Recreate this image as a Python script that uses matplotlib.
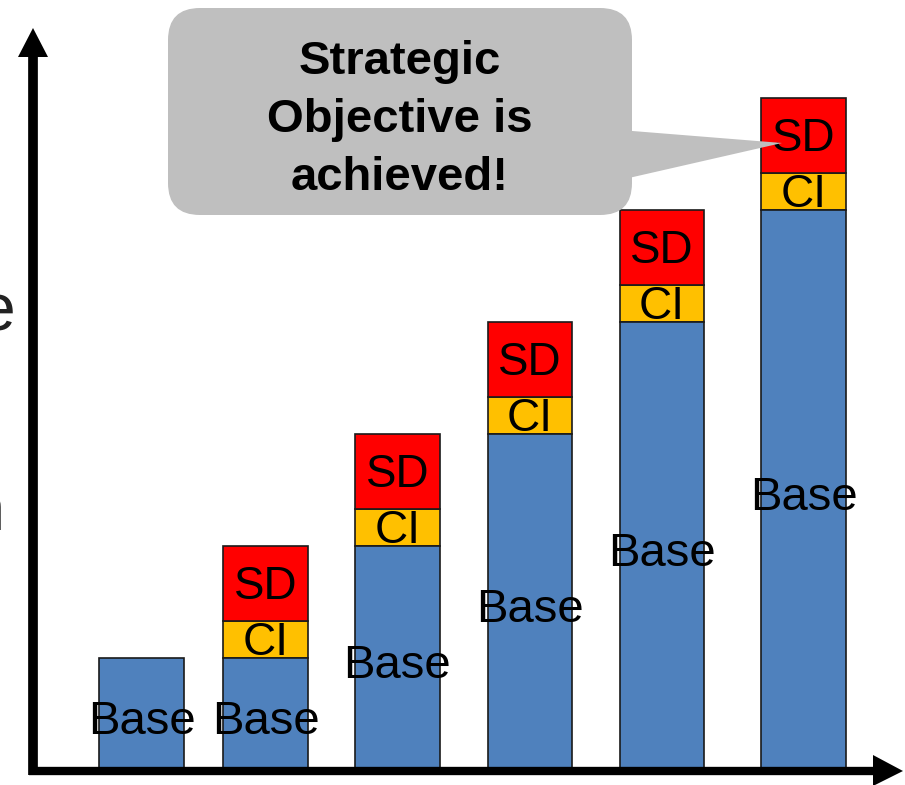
import numpy as np
import matplotlib.pyplot as plt
from matplotlib.patches import FancyBboxPatch, Polygon

plt.rcParams['font.family'] = ['Liberation Sans', 'DejaVu Sans']

base = [1, 1, 2, 3, 4, 5]
ci = [0, 0.33, 0.33, 0.33, 0.33, 0.33]
sd = [0, 0.67, 0.67, 0.67, 0.67, 0.67]
callout = 'Strategic\nObjective is\nachieved!'

# slot positions of the columns (uneven, as on the slide)
xpos = [0, 0.935, 1.93, 2.93, 3.925, 4.995]

fig = plt.figure(figsize=(9.05, 7.85), dpi=100)
ax = fig.add_axes([0, 0, 1, 1])
w = 0.64
base = np.array(base)
ci = np.array(ci)
sd = np.array(sd)

# CI first so the base bar hides the bottom of the CI text
for i in range(len(base)):
    xi = xpos[i]
    if ci[i] > 0:
        ax.bar(xi, ci[i], w, bottom=base[i], color='#FFC000', edgecolor='#1a1a1a', lw=1.2, zorder=2)
        ax.text(xi, base[i] + ci[i] / 2 - 0.03, 'CI', ha='center', va='center', fontsize=33, zorder=2.5)
    ax.bar(xi, base[i], w, color='#4F81BD', edgecolor='#1a1a1a', lw=1.2, zorder=3)
    if sd[i] > 0:
        ax.bar(xi, sd[i], w, bottom=base[i] + ci[i], color='#FF0000', edgecolor='#1a1a1a', lw=1.2, zorder=3)
        ax.text(xi, base[i] + ci[i] + sd[i] / 2 - 0.035, 'SD', ha='center', va='center', fontsize=33, zorder=4)
    ax.text(xi, base[i] / 2 - 0.075, 'Base', ha='center', va='center', fontsize=34, zorder=4)

ax.set_xlim(-1.067, 5.758)
ax.set_ylim(-0.134, 6.875)
ax.axis('off')

# overlay in pixel coordinates for the arrows and the callout
ov = fig.add_axes([0, 0, 1, 1], facecolor='none')
ov.set_xlim(0, 905)
ov.set_ylim(785, 0)
ov.axis('off')

ov.plot([33, 33], [775, 50], color='black', lw=7, solid_capstyle='butt', zorder=5)
ov.add_patch(Polygon([[18, 57], [48, 57], [33, 28]], closed=True, color='black', lw=0, zorder=5))
ov.plot([29, 880], [771, 771], color='black', lw=6, solid_capstyle='butt', zorder=5)
ov.add_patch(Polygon([[873, 755], [873, 786], [903, 771]], closed=True, color='black', lw=0, zorder=5))

ov.add_patch(FancyBboxPatch((168, 8), 464, 207, boxstyle='round,pad=0,rounding_size=32',
                            fc='#BFBFBF', ec='none', zorder=6))
ov.add_patch(Polygon([[620, 130], [782, 143], [620, 180]], closed=True, fc='#BFBFBF', ec='none', zorder=6))
ov.text(400, 120, callout, ha='center', va='center', fontsize=34, fontweight='bold',
        linespacing=1.4, zorder=7)

# partially visible axis label at the left edge
ov.text(16, 312, 'Value', ha='right', va='center', fontsize=48, color='#222222', zorder=5)
ov.text(6, 512, 'Creation', ha='right', va='center', fontsize=48, color='black', zorder=5)

fig.savefig('out.png', dpi=100)
